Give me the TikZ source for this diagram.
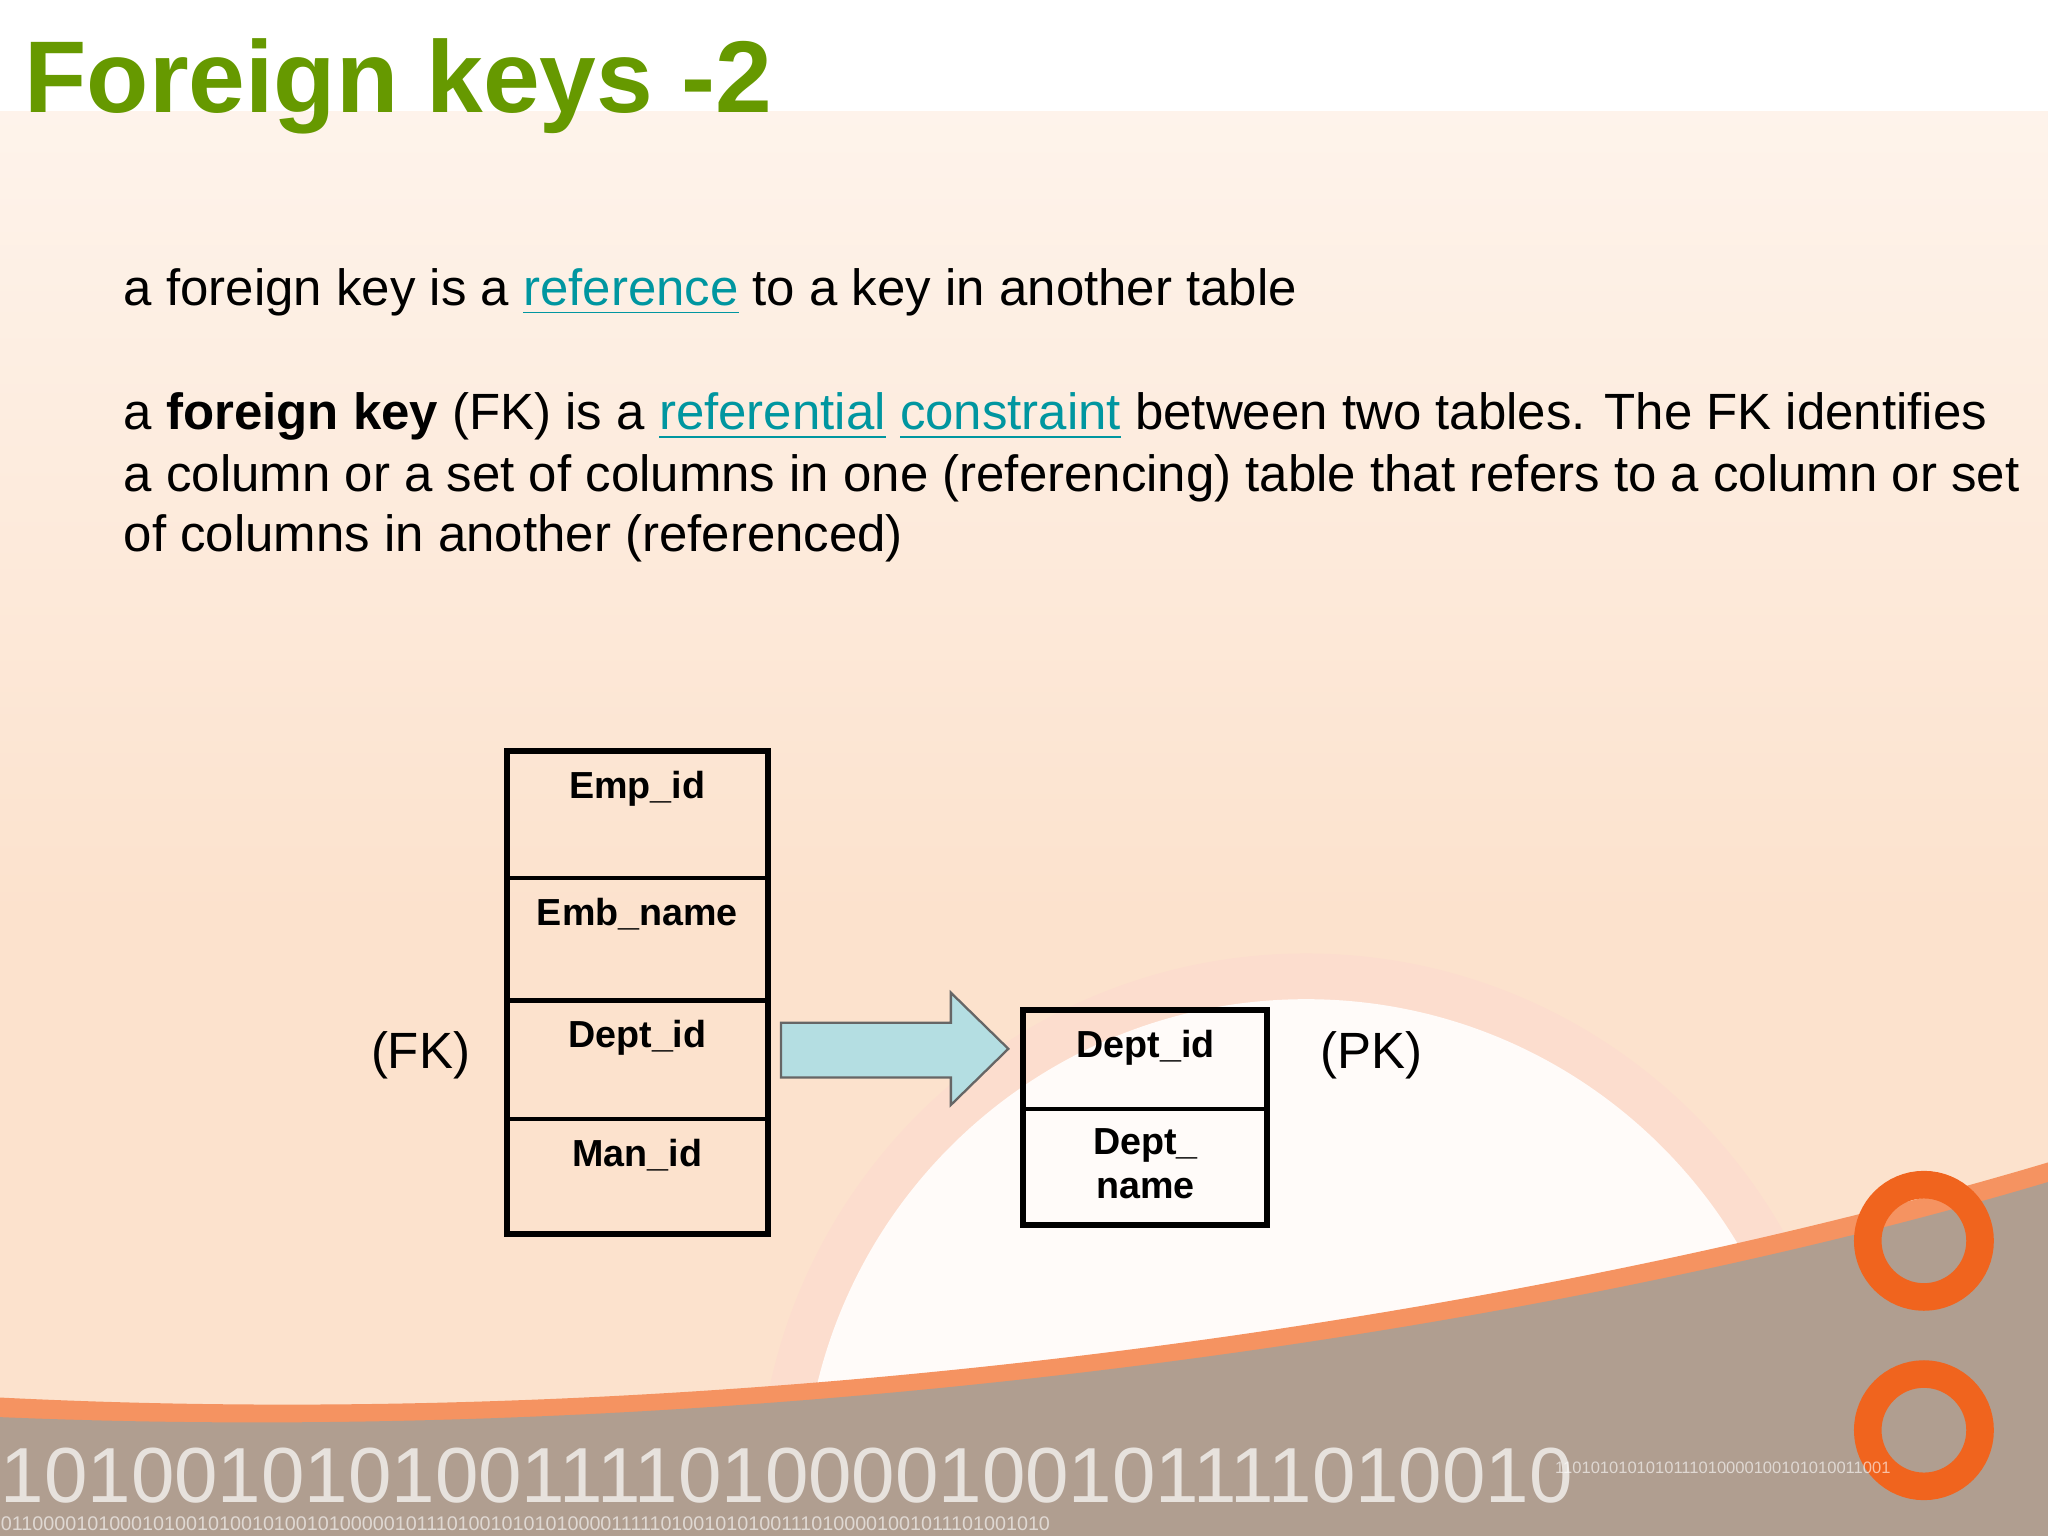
\documentclass[tikz,border=0pt]{standalone}
\usepackage{fontspec}
\setmainfont{Liberation Sans}
\definecolor{titlegreen}{RGB}{102,153,0}
\definecolor{linkc}{RGB}{0,150,160}
\definecolor{peach}{RGB}{252,226,205}
\definecolor{arrowfill}{RGB}{180,222,226}
\definecolor{orangec}{RGB}{240,100,30}
\tikzset{
 body/.style={anchor=base west,font=\fontsize{11.1pt}{13.4pt}\selectfont,inner sep=0},
 cell/.style={font=\bfseries\fontsize{8.2pt}{9.5pt}\selectfont,align=center,anchor=north},
 tbl/.style={draw=black,line width=1.3pt}
}
\newcommand{\lnk}[1]{\textcolor{linkc}{\underline{#1}}}
\begin{document}
\begin{tikzpicture}[x=0.01cm,y=-0.01cm]
\useasboundingbox (0,0) rectangle (1568,1176);
% background
\fill[peach] (0,85) rectangle (1568,1176);
\shade[top color=white!60!peach,bottom color=peach] (0,85) rectangle (1568,700);
\fill[white] (0,0) rectangle (1568,85);
\fill[orangec!22] (1000,1150) circle (420);
\fill[white!88!peach] (1000,1150) circle (385);
\fill[orangec!70] (0,1176) -- (0,1070) .. controls (600,1100) and (1200,1000) .. (1568,890) -- (1568,1176) -- cycle;
\fill[black!30!peach] (0,1176) -- (0,1085) .. controls (600,1110) and (1200,1015) .. (1568,905) -- (1568,1176) -- cycle;
\draw[orangec,line width=6pt] (1473,950) circle (43);
\draw[orangec,line width=6pt] (1473,1095) circle (43);
\node[anchor=base west,inner sep=0,text=white,opacity=0.7,font=\fontsize{17pt}{17pt}\selectfont] at (0,1150) {1010010101001111010000100101111010010};
\node[anchor=base west,inner sep=0,text=white,opacity=0.6,font=\fontsize{3.6pt}{4pt}\selectfont] at (1190,1128) {1101010101010111010000100101010011001};
\node[anchor=base west,inner sep=0,text=white,opacity=0.6,font=\fontsize{4.3pt}{5pt}\selectfont] at (0,1172) {0110000101000101001010010100101000001011101001010101000011111010010101001110100001001011101001010};
% title
\node[anchor=base west,inner sep=0,text=titlegreen,font=\bfseries\fontsize{22.2pt}{26pt}\selectfont] (title) at (18,86) {Foreign keys -2};
% body text
\node[body] (t1) at (94,234) {a foreign key is a \lnk{reference} to a key in another table};
\node[body] (t2) at (94,329) {a \textbf{foreign key} (FK) is a \lnk{referential} \lnk{constraint} between two tables. The FK identifies};
\node[body] (t3) at (94,376) {a column or a set of columns in one (referencing) table that refers to a column or set};
\node[body] (t4) at (94,422) {of columns in another (referenced)};
% left table
\draw[tbl] (388,575) rectangle (588,945);
\draw[line width=0.9pt] (388,672) -- (588,672) (388,766) -- (588,766) (388,857) -- (588,857);
\node[cell] (c1) at (488,578) {Emp\_id};
\node[cell] (c2) at (488,675) {Emb\_name};
\node[cell] (c3) at (488,769) {Dept\_id};
\node[cell] (c4) at (488,860) {Man\_id};
% right table
\draw[tbl] (783,773) rectangle (970,938);
\draw[line width=0.9pt] (783,849) -- (970,849);
\node[cell] (d1) at (877,776) {Dept\_id};
\node[cell] (d2) at (877,852) {Dept\_\\name};
% arrow
\draw[fill=arrowfill,draw=black!60,line width=0.5pt] (598,783) -- (728,783) -- (728,760) -- (772,803) -- (728,846) -- (728,825) -- (598,825) -- cycle;
% labels
\node[font=\fontsize{11.1pt}{13pt}\selectfont] (fk) at (322,808) {(FK)};
\node[font=\fontsize{11.1pt}{13pt}\selectfont] (pk) at (1050,808) {(PK)};
\end{tikzpicture}
\end{document}
